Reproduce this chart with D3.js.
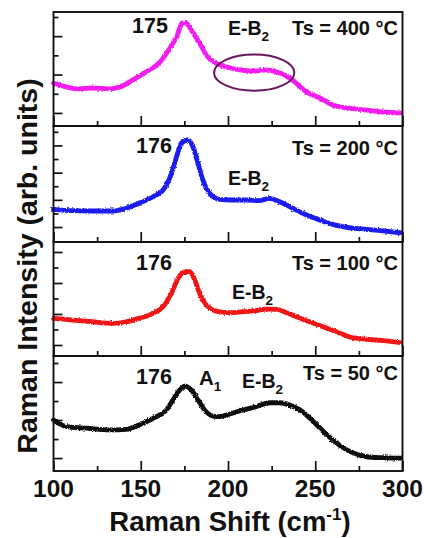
<!DOCTYPE html>
<html><head><meta charset="utf-8">
<script src="https://cdn.jsdelivr.net/npm/d3@7/dist/d3.min.js"></script>
<style>
body{margin:0;background:#fff}
svg{display:block}
text{font-family:"Liberation Sans",Arial,Helvetica,sans-serif;font-weight:bold;fill:#111}
</style>
</head><body>
<svg id="chart" width="424" height="538"></svg>
<script>
// ---------- data ----------
const xTickValues = [100, 125, 150, 175, 200, 225, 250, 275, 300];
const xTickLabels = [100, 150, 200, 250, 300];

const shift400 = [100,107.5,115,122,132,138,145.5,153,161,166,170.5,174,176,179,183.7,187.6,192,199,206.7,214,222,228,233.6,239,245,252.6,260,268,279.5,288.8,298.5];
const int400   = [2.56,2.35,2.25,2.30,2.25,2.35,2.72,3.13,3.65,4.28,4.96,5.68,5.68,5.32,4.64,4.02,3.65,3.39,3.24,3.18,3.24,3.13,2.92,2.56,2.09,1.78,1.41,1.26,1.15,1.05,1.00];

const shift200 = [100,111,122,134,141.6,149,157,162.8,167.6,170.5,173.2,177,179.9,182.8,185.6,189.5,195,202.8,210.4,218,223.8,229.6,237,245,252.6,260,268,279.5,288.8,298.5];
const int200   = [2.30,2.20,2.18,2.18,2.38,2.75,3.23,3.72,4.95,6.17,7.16,7.40,6.91,5.69,4.46,3.48,3.04,2.99,2.99,2.94,3.11,2.86,2.38,1.89,1.52,1.20,0.98,0.83,0.71,0.58];

const shift100 = [100,111,122,134,141.6,149,157,162.8,167.6,171.4,175.3,178,181,183.7,187.6,193,201,208.7,216,222,228,233.6,241.4,249,256.8,264.5,270.3,279.5,288.8,298.5];
const int100   = [2.72,2.61,2.50,2.40,2.50,2.72,3.04,3.47,4.34,5.30,5.73,5.73,5.19,4.34,3.58,3.19,3.08,3.15,3.21,3.32,3.30,3.08,2.72,2.40,2.08,1.75,1.50,1.37,1.28,1.15];

const shift50 = [100,107.5,119,132,141.6,149,157,164.7,168.5,172.3,175.3,179,182.8,186.6,191.4,195.3,201,208.7,216,223.8,229.6,235.3,241.4,249,256.8,264.5,272.2,279.5,288.8,298.5];
const int50   = [3.00,2.65,2.57,2.48,2.51,2.74,3.09,3.53,4.06,4.58,4.79,4.58,4.06,3.53,3.21,3.18,3.32,3.53,3.70,3.91,3.91,3.79,3.53,2.91,2.21,1.64,1.25,1.07,1.02,0.99];

const panelNames = ["Ts = 400 °C", "Ts = 200 °C", "Ts = 100 °C", "Ts = 50 °C"];
const peakLabels = ["175", "176", "176", "176"];
const yTicks400 = [1,2,3,4,5,6];
const yTicks200 = [1,2,3,4,5,6,7,8];
const yTicks100 = [1,2,3,4,5,6,7];
const yTicks50  = [1,2,3,4,5,6];

// ---------- layout ----------
const svg = d3.select("#chart");
const L = 53.5, R = 402.5;
const bounds = [[12,126],[126,242],[242,356],[356,471]];
const domains = [[0.32,6.26],[-0.1,8.43],[0.29,7.645],[0.32,6.37]];
const colors = ["#f21cf0", "#1a1aee", "#f01616", "#0a0a0a"];

const x = d3.scaleLinear().domain([100,300]).range([L,R]);

const panels = [
  {sx: shift400, sy: int400, ticks: yTicks400},
  {sx: shift200, sy: int200, ticks: yTicks200},
  {sx: shift100, sy: int100, ticks: yTicks100},
  {sx: shift50,  sy: int50,  ticks: yTicks50}
];

// annotation positions in data coordinates [x, intensity]
const peakPos = [[165.6,5.16],[167.9,6.44],[167.9,5.84],[167.9,4.90]];
const namePos = [[297.4,5.06],[297.4,6.30],[297.4,5.84],[297.4,5.11]];
const ebPos   = [[200,5.06],[200,4.09],[202.3,3.97],[208,4.69]];

// subtle roughness filter to mimic noisy spectra
const defs = svg.append("defs");
const f = defs.append("filter").attr("id","rough").attr("x","-5%").attr("y","-20%").attr("width","110%").attr("height","140%");
f.append("feTurbulence").attr("type","fractalNoise").attr("baseFrequency","0.7").attr("numOctaves",1).attr("seed",3).attr("result","n");
f.append("feDisplacementMap").attr("in","SourceGraphic").attr("in2","n").attr("scale",3).attr("xChannelSelector","R").attr("yChannelSelector","G");

panels.forEach((p, i) => {
  const [top, bot] = bounds[i];
  const y = d3.scaleLinear().domain(domains[i]).range([bot, top]);
  const g = svg.append("g");

  // curve
  const data = p.sx.map((v, k) => [v, p.sy[k]]);
  const line = d3.line().x(d => x(d[0])).y(d => y(d[1])).curve(d3.curveMonotoneX);
  g.append("path").datum(data).attr("d", line)
    .attr("fill","none").attr("stroke",colors[i]).attr("stroke-width",4.8)
    .attr("stroke-linejoin","round").attr("stroke-linecap","round")
    .attr("filter","url(#rough)");

  // left ticks (inward)
  const yAxis = d3.axisRight(y).tickValues(p.ticks).tickFormat("").tickSizeOuter(0).tickSize(0);
  const ya = g.append("g").attr("transform",`translate(${L},0)`).call(yAxis);
  ya.select(".domain").remove();
  ya.selectAll(".tick line").attr("x2", d => d % 2 === 1 ? 9 : 5)
    .attr("stroke","#111").attr("stroke-width",1.7);

  // bottom ticks (inward)
  const xAxis = d3.axisTop(x).tickValues(xTickValues).tickFormat("").tickSizeOuter(0).tickSize(0);
  const xa = g.append("g").attr("transform",`translate(0,${bot})`).call(xAxis);
  xa.select(".domain").remove();
  xa.selectAll(".tick line").attr("y2", d => d % 50 === 0 ? -10 : -5)
    .attr("stroke","#111").attr("stroke-width",1.7);

  // frame
  g.append("rect").attr("x",L).attr("y",top).attr("width",R-L).attr("height",bot-top)
    .attr("fill","none").attr("stroke","#111").attr("stroke-width",1.9);

  // annotations
  g.append("text").attr("x",x(peakPos[i][0])).attr("y",y(peakPos[i][1]))
    .attr("text-anchor","end").attr("font-size",21.5).text(peakLabels[i]);
  g.append("text").attr("x",x(namePos[i][0])).attr("y",y(namePos[i][1]))
    .attr("text-anchor","end").attr("font-size",20).text(panelNames[i]);
  const eb = g.append("text").attr("x",x(ebPos[i][0])).attr("y",y(ebPos[i][1]))
    .attr("font-size",19.5);
  eb.append("tspan").text("E-B");
  eb.append("tspan").attr("font-size",13.5).attr("dy",6).text("2");

  if (i === 0) {
    // ellipse around E-B2 region
    g.append("ellipse").attr("cx",x(215)).attr("cy",y(3.10))
      .attr("rx",x(238)-x(215)).attr("ry",y(2.16)-y(3.10))
      .attr("fill","none").attr("stroke","#6b1460").attr("stroke-width",2);
  }
  if (i === 3) {
    const a1 = g.append("text").attr("x",x(183.4)).attr("y",y(4.85)).attr("font-size",20.5);
    a1.append("tspan").text("A");
    a1.append("tspan").attr("font-size",13.5).attr("dy",6).text("1");
  }
});

// x tick labels
svg.append("g").selectAll("text").data(xTickLabels).join("text")
  .attr("x", d => x(d)).attr("y", 497).attr("text-anchor","middle")
  .attr("font-size",24.5).text(d => d);

// x title
const xt = svg.append("text").attr("x",(L+R)/2+2).attr("y",531).attr("text-anchor","middle").attr("font-size",27.5);
xt.append("tspan").text("Raman Shift (cm");
xt.append("tspan").attr("font-size",17).attr("dy",-11).text("-1");
xt.append("tspan").attr("dy",11).text(")");

// y title
svg.append("text").attr("transform","translate(37,266) rotate(-90)")
  .attr("text-anchor","middle").attr("font-size",28.5).text("Raman Intensity (arb. units)");
</script>
</body></html>
